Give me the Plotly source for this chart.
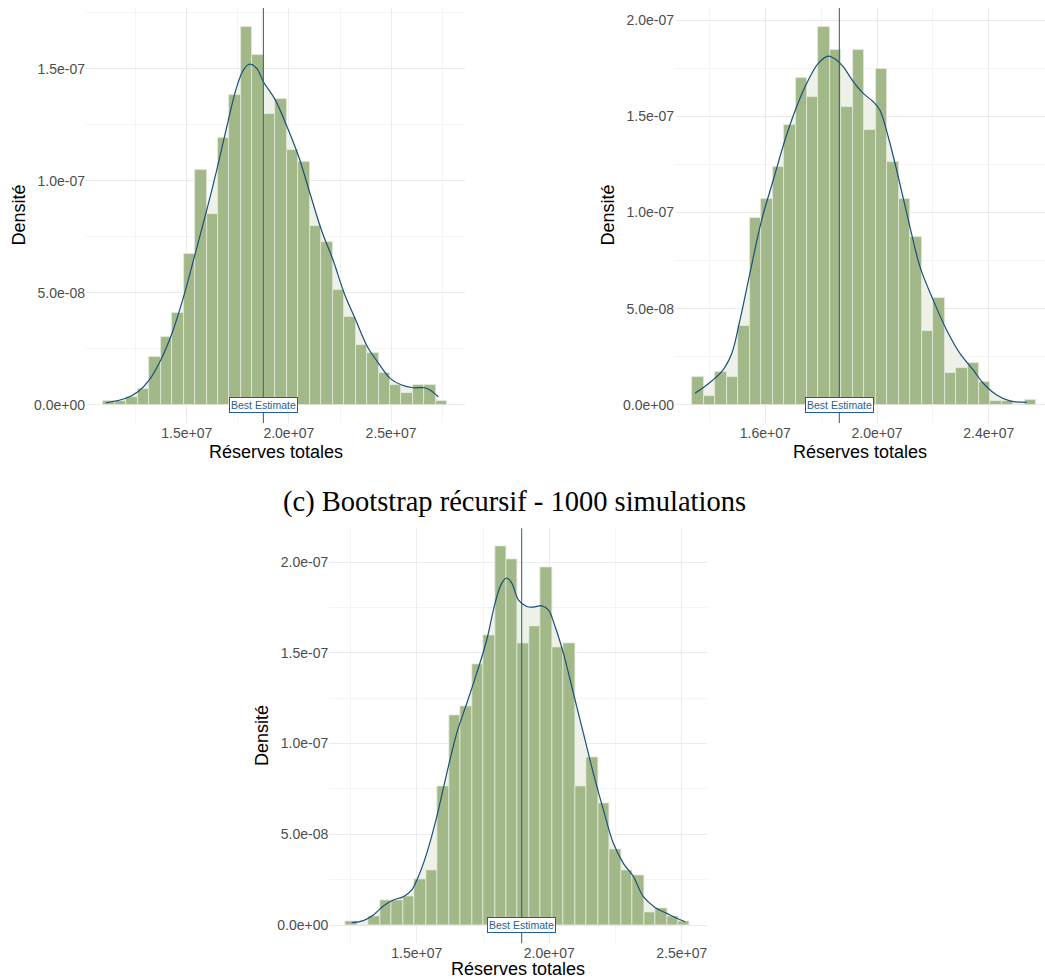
import plotly.graph_objects as go

W, H = 1045, 980

# ---------------- data (reserves in units of 1e7, densities in units of 1e-8) -------------
best_estimate = [1.875, 1.865, 1.896]

p1_bin_start = 1.092
p1_bin_width = 0.0561
p1_hist = [0.18, 0.18, 0.37, 0.71, 2.13, 3.02, 4.09, 6.74, 10.48, 8.51,
           11.90, 13.85, 16.89, 15.64, 12.97, 13.68, 11.37, 10.83, 7.99, 7.28,
           5.15, 3.91, 2.66, 2.31, 1.41, 0.88, 0.52, 0.88, 0.88, 0.18]
p1_kde_x = [1.105, 1.203, 1.263, 1.317, 1.373, 1.428, 1.485, 1.542, 1.598, 1.647,
            1.696, 1.745, 1.777, 1.806, 1.842, 1.875, 1.933, 1.991, 2.048, 2.103,
            2.159, 2.216, 2.271, 2.327, 2.384, 2.439, 2.495, 2.552, 2.607, 2.662,
            2.690, 2.731]
p1_kde_y = [0.10, 0.30, 0.60, 1.12, 2.01, 3.20, 4.84, 6.77, 8.70, 10.49,
            12.42, 14.21, 14.95, 15.21, 15.03, 14.43, 13.62, 12.42, 11.08, 9.45,
            7.81, 6.47, 4.98, 3.79, 2.60, 1.86, 1.19, 0.89, 0.77, 0.77,
            0.67, 0.37]

p2_bin_start = 1.339
p2_bin_width = 0.04103
p2_hist = [1.44, 0.47, 1.70, 1.44, 4.10, 9.70, 10.68, 12.38, 14.55, 16.97,
           16.02, 19.65, 18.44, 15.50, 18.44, 14.30, 17.45, 12.61, 10.68, 8.71,
           3.86, 5.58, 1.68, 1.92, 2.16, 1.21, 0.23, 0.23, 0.0, 0.24]
p2_kde_x = [1.3485, 1.3903, 1.444, 1.480, 1.5095, 1.545, 1.587, 1.6286, 1.6705, 1.7073,
            1.748, 1.7896, 1.8254, 1.8555, 1.879, 1.915, 1.9506, 1.9864, 2.0104, 2.040,
            2.0758, 2.1177, 2.1535, 2.201, 2.249, 2.2966, 2.3442, 2.380, 2.428, 2.4755,
            2.535]
p2_kde_y = [0.61, 1.04, 1.73, 2.68, 4.42, 6.84, 9.61, 11.69, 13.77, 15.32,
            16.71, 17.75, 18.13, 17.92, 17.58, 16.80, 16.19, 15.76, 15.32, 13.94,
            11.86, 9.26, 7.19, 5.45, 3.90, 2.68, 1.82, 1.13, 0.52, 0.21,
            0.14]

p3_bin_start = 1.2321
p3_bin_width = 0.04327
p3_hist = [0.20, 0.0, 0.46, 1.38, 1.38, 1.60, 2.54, 3.00, 7.63, 11.58,
           12.04, 14.37, 15.99, 20.86, 20.17, 15.53, 16.45, 19.71, 15.29, 15.53,
           7.63, 9.25, 6.71, 4.17, 3.03, 2.76, 0.68, 0.92, 0.46, 0.20]
p3_kde_x = [1.2547, 1.2985, 1.3362, 1.374, 1.4117, 1.4494, 1.4811, 1.506, 1.5377, 1.5755,
            1.6132, 1.651, 1.6887, 1.7264, 1.7642, 1.7955, 1.8208, 1.8396, 1.8585, 1.8834,
            1.9151, 1.940, 1.9717, 1.9966, 2.0219, 2.0532, 2.091, 2.1287, 2.1664, 2.2042,
            2.2419, 2.2796, 2.3174, 2.355, 2.3992, 2.4434, 2.4811, 2.5125]
p3_kde_y = [0.13, 0.24, 0.55, 1.05, 1.38, 1.56, 1.93, 2.67, 3.95, 5.97,
            8.36, 10.57, 12.22, 13.88, 15.72, 17.74, 18.84, 19.12, 18.84, 17.92,
            17.55, 17.52, 17.59, 17.37, 16.45, 14.98, 12.78, 10.57, 8.36, 6.34,
            4.50, 3.40, 2.67, 1.56, 0.97, 0.64, 0.37, 0.18]

y_tick_vals = [0, 5, 10, 15, 20]
y_tick_text = ["0.0e+00", "5.0e-08", "1.0e-07", "1.5e-07", "2.0e-07"]
x_ticks = [
    ([1.5, 2.0, 2.5], ["1.5e+07", "2.0e+07", "2.5e+07"]),
    ([1.6, 2.0, 2.4], ["1.6e+07", "2.0e+07", "2.4e+07"]),
    ([1.5, 2.0, 2.5], ["1.5e+07", "2.0e+07", "2.5e+07"]),
]
x_minor = [[1.25, 1.75, 2.25, 2.75], [1.4, 1.8, 2.2, 2.6], [1.25, 1.75, 2.25]]
y_minor = [2.5, 7.5, 12.5, 17.5]

title_text = "(c) Bootstrap récursif - 1000 simulations"
x_title = "Réserves totales"
y_title = "Densité"
be_label = "Best Estimate"

# ---------------- styling / layout -------------
BAR = "#A3B888"
BAR_EDGE = "#E4EADC"
KDE_FILL = "#EEF1E8"
KDE_LINE = "#1B4F7A"
VLINE = "#2A5D78"
LABEL = "#1F5F96"
GRID = "#EBEBEB"
GRID_MINOR = "#F4F4F4"
TICK_COL = "#4D4D4D"
SANS = "Liberation Sans, Arial, sans-serif"

# pixel boxes: (left, right, top, bottom) and axis ranges
panels = [
    dict(box=(86, 465, 8, 423), xr=(1.0073, 2.8615), yr=(-0.804, 17.72)),
    dict(box=(675, 1045, 8, 423), xr=(1.277, 2.601), yr=(-0.936, 20.63)),
    dict(box=(329.3, 706.7, 528.3, 943.3), xr=(1.170, 2.594), yr=(-1.008, 21.86)),
]
xtitle_y = [452, 452, 969]
hists = [(p1_bin_start, p1_bin_width, p1_hist),
         (p2_bin_start, p2_bin_width, p2_hist),
         (p3_bin_start, p3_bin_width, p3_hist)]
kdes = [(p1_kde_x, p1_kde_y), (p2_kde_x, p2_kde_y), (p3_kde_x, p3_kde_y)]

fig = go.Figure()
annotations = []
shapes = []


def px_x(x):
    return x / W


def px_y(y):
    return 1 - y / H


for i, p in enumerate(panels):
    n = "" if i == 0 else str(i + 1)
    m = str(i + 4)
    xa, ya = "x" + n, "y" + n          # base subplot: density fill
    xo, yo = "x" + m, "y" + m          # overlay subplot: bars + density line
    start, bw, dens = hists[i]
    centers = [start + bw * (k + 0.5) for k in range(len(dens))]
    kx, ky = kdes[i]

    fig.add_trace(go.Scatter(x=kx, y=ky, mode="lines", line=dict(width=0, shape="spline"),
                             fill="tozeroy", fillcolor=KDE_FILL, xaxis=xa, yaxis=ya,
                             showlegend=False, hoverinfo="skip"))
    fig.add_trace(go.Bar(x=centers, y=dens, width=[bw] * len(dens),
                         marker=dict(color=BAR, line=dict(color=BAR_EDGE, width=0.8)),
                         xaxis=xo, yaxis=yo, showlegend=False))
    fig.add_trace(go.Scatter(x=kx, y=ky, mode="lines",
                             line=dict(color=KDE_LINE, width=1.2, shape="spline"),
                             xaxis=xo, yaxis=yo, showlegend=False, hoverinfo="skip"))

    l, r, t, b = p["box"]
    ax_common = dict(showline=False, zeroline=False, ticks="",
                     gridcolor=GRID, gridwidth=1,
                     tickfont=dict(family=SANS, size=14, color=TICK_COL))
    tv, tt = x_ticks[i]
    fig.layout["xaxis" + n] = dict(
        domain=[px_x(l), min(px_x(r), 1.0)], range=list(p["xr"]), anchor=ya,
        tickmode="array", tickvals=tv, ticktext=tt,
        minor=dict(tickmode="array", tickvals=x_minor[i], showgrid=True,
                   gridcolor=GRID_MINOR, gridwidth=1, ticks=""),
        **ax_common)
    fig.layout["yaxis" + n] = dict(
        domain=[px_y(b), px_y(t)], range=list(p["yr"]), anchor=xa,
        tickmode="array", tickvals=y_tick_vals, ticktext=y_tick_text,
        minor=dict(tickmode="array", tickvals=y_minor, showgrid=True,
                   gridcolor=GRID_MINOR, gridwidth=1, ticks=""),
        **ax_common)
    fig.layout["xaxis" + m] = dict(overlaying=xa, anchor=yo, range=list(p["xr"]),
                                   visible=False, showgrid=False, zeroline=False)
    fig.layout["yaxis" + m] = dict(overlaying=ya, anchor=xo, range=list(p["yr"]),
                                   visible=False, showgrid=False, zeroline=False)

    shapes.append(dict(type="line", xref=xa, yref=ya + " domain",
                       x0=best_estimate[i], x1=best_estimate[i], y0=0, y1=1,
                       line=dict(color=VLINE, width=1), layer="above"))
    annotations.append(dict(x=best_estimate[i], y=0, xref=xa, yref=ya, text=be_label,
                            showarrow=False, font=dict(family=SANS, size=10.5, color=LABEL),
                            bgcolor="white", bordercolor=LABEL, borderwidth=1, borderpad=1,
                            xanchor="center", yanchor="middle"))

    # axis titles
    cx = (l + min(r, W)) / 2
    cy = (t + b) / 2
    annotations.append(dict(x=px_x(cx), y=px_y(xtitle_y[i]), xref="paper", yref="paper",
                            text=x_title, showarrow=False,
                            font=dict(family=SANS, size=18, color="black"),
                            xanchor="center", yanchor="middle"))
    annotations.append(dict(x=px_x(l - 68), y=px_y(cy), xref="paper", yref="paper",
                            text=y_title, showarrow=False, textangle=-90,
                            font=dict(family=SANS, size=18, color="black"),
                            xanchor="center", yanchor="middle"))

annotations.append(dict(x=px_x(514), y=px_y(502), xref="paper", yref="paper",
                        text=title_text, showarrow=False,
                        font=dict(family="Liberation Serif, DejaVu Serif, serif", size=28.5,
                                  color="black"),
                        xanchor="center", yanchor="middle"))

fig.update_layout(width=W, height=H, autosize=False,
                  margin=dict(l=0, r=0, t=0, b=0, pad=0),
                  paper_bgcolor="white", plot_bgcolor="white",
                  bargap=0, barmode="overlay",
                  shapes=shapes, annotations=annotations)

fig.write_html("out.html")
